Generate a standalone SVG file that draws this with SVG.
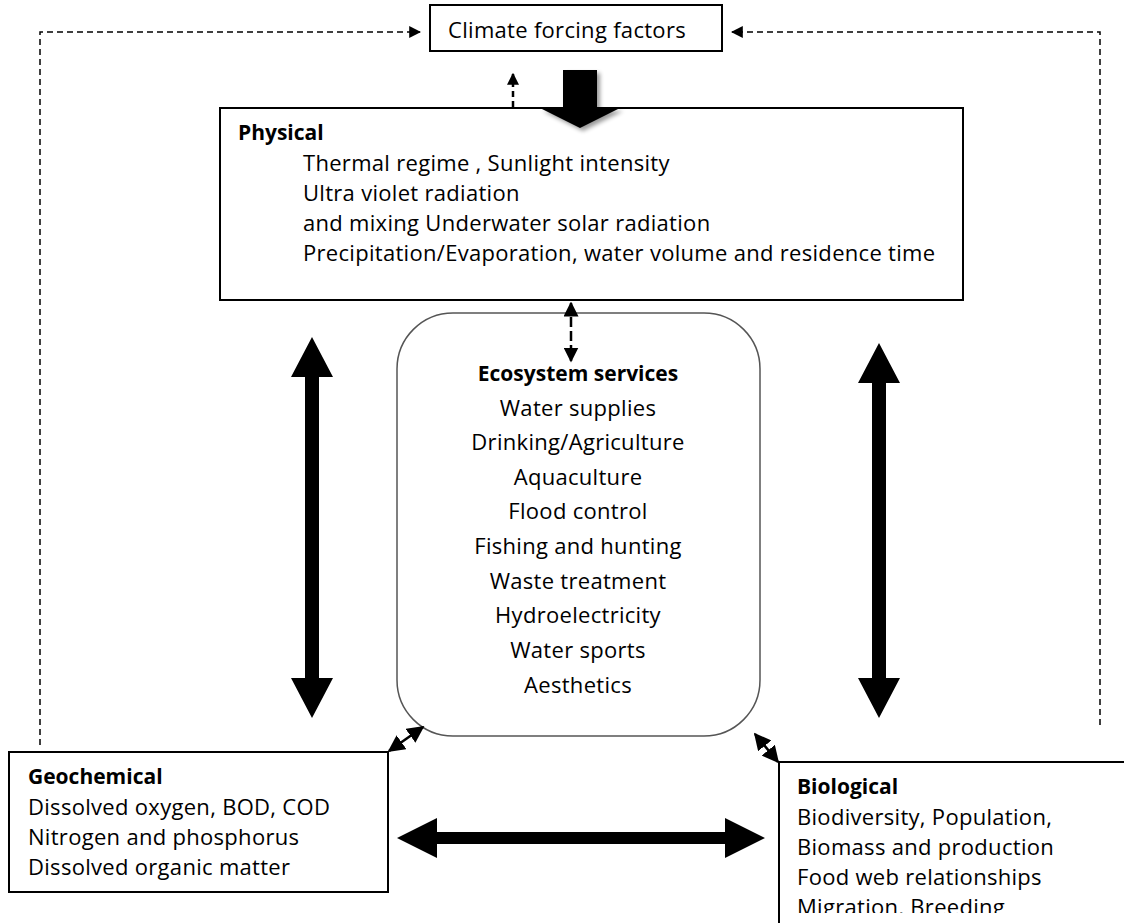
<svg xmlns="http://www.w3.org/2000/svg" width="1124" height="923" viewBox="0 0 1124 923">
<style>
text{font-family:"Open Sans","Liberation Sans",Arial,sans-serif;font-size:22px;fill:#000;letter-spacing:0.3px}
.b{font-weight:bold;font-size:21px;letter-spacing:0}
.c{text-anchor:middle}
.box{fill:#fff;stroke:#000;stroke-width:2}
.dash{fill:none;stroke:#000;stroke-width:1.5;stroke-dasharray:6,4}
.thin{fill:none;stroke:#000;stroke-width:2.5}
</style>
<defs>
<marker id="ah2" viewBox="0 0 10 10" refX="9" refY="5" markerWidth="12" markerHeight="12" orient="auto-start-reverse" markerUnits="userSpaceOnUse">
<path d="M0,0 L10,5 L0,10 z" fill="#000"/>
</marker>
<marker id="ah3" viewBox="0 0 10 10" refX="9" refY="5" markerWidth="15" markerHeight="15" orient="auto-start-reverse" markerUnits="userSpaceOnUse">
<path d="M0,0 L10,5 L0,10 z" fill="#000"/>
</marker>
<marker id="ah4" viewBox="0 0 10 10" refX="9" refY="5" markerWidth="17" markerHeight="17" orient="auto-start-reverse" markerUnits="userSpaceOnUse">
<path d="M0,0 L10,5 L0,10 z" fill="#000"/>
</marker>
<filter id="sh" x="-20%" y="-20%" width="150%" height="150%">
<feGaussianBlur in="SourceAlpha" stdDeviation="2"/>
<feOffset dx="3" dy="3"/>
<feComponentTransfer><feFuncA type="linear" slope="0.4"/></feComponentTransfer>
<feMerge><feMergeNode/><feMergeNode in="SourceGraphic"/></feMerge>
</filter>
<clipPath id="clipb"><rect x="0" y="0" width="1124" height="913"/></clipPath>
</defs>

<g id="climate">
<rect class="box" x="430" y="5" width="292" height="46"/>
<text class="c" x="567" y="38">Climate forcing factors</text>
</g>

<g id="physical">
<rect class="box" x="220" y="108" width="743" height="192"/>
<text class="b" x="238" y="140">Physical</text>
<text x="303" y="171">Thermal regime , Sunlight intensity</text>
<text x="303" y="201">Ultra violet radiation</text>
<text x="303" y="231">and mixing Underwater solar radiation</text>
<text x="303" y="261">Precipitation/Evaporation, water volume and residence time</text>
</g>

<g id="ecosystem">
<rect x="397" y="313" width="363" height="423" rx="56" ry="56" fill="#fff" stroke="#555" stroke-width="1.5"/>
<text class="b c" x="578" y="381">Ecosystem services</text>
<text class="c" x="578" y="416">Water supplies</text>
<text class="c" x="578" y="450">Drinking/Agriculture</text>
<text class="c" x="578" y="485">Aquaculture</text>
<text class="c" x="578" y="519">Flood control</text>
<text class="c" x="578" y="554">Fishing and hunting</text>
<text class="c" x="578" y="589">Waste treatment</text>
<text class="c" x="578" y="623">Hydroelectricity</text>
<text class="c" x="578" y="658">Water sports</text>
<text class="c" x="578" y="693">Aesthetics</text>
</g>

<g id="geochemical">
<rect class="box" x="9" y="752" width="379" height="140"/>
<text class="b" x="28" y="784">Geochemical</text>
<text x="28" y="815">Dissolved oxygen, BOD, COD</text>
<text x="28" y="845">Nitrogen and phosphorus</text>
<text x="28" y="875">Dissolved organic matter</text>
</g>

<g id="biological">
<rect class="box" x="779" y="762" width="360" height="180"/>
<text class="b" x="797" y="794">Biological</text>
<text x="797" y="825">Biodiversity, Population,</text>
<text x="797" y="855">Biomass and production</text>
<text x="797" y="885">Food web relationships</text>
<text x="797" y="915" clip-path="url(#clipb)">Migration, Breeding</text>
</g>

<g id="connectors">
<path class="dash" d="M40,745 V32 H420" marker-end="url(#ah2)"/>
<path class="dash" d="M1100,725 V32 H732" marker-end="url(#ah2)"/>
<path class="dash" d="M513,107 V74" marker-end="url(#ah2)" style="stroke-width:2.5"/>
<path d="M563,70 H597 V108 H620 L580,128 L540,108 H563 Z" fill="#000" filter="url(#sh)"/>
<path class="dash" d="M571,303 V361" marker-start="url(#ah3)" marker-end="url(#ah3)" style="stroke-width:2.5;stroke-dasharray:10,4"/>
<path d="M312,337 L333,377 H319 V678 H333 L312,718 L291,678 H305 V377 H291 Z" fill="#000"/>
<path d="M879,343 L900,383 H886 V678 H900 L879,718 L858,678 H872 V383 H858 Z" fill="#000"/>
<path d="M397,838 L437,818 V832 H725 V818 L765,838 L725,858 V844 H437 V858 Z" fill="#000"/>
<path class="thin" d="M389,751 L423,727" marker-start="url(#ah4)" marker-end="url(#ah4)"/>
<path class="thin" d="M778,762 L755,734" marker-start="url(#ah4)" marker-end="url(#ah4)"/>
</g>
</svg>
